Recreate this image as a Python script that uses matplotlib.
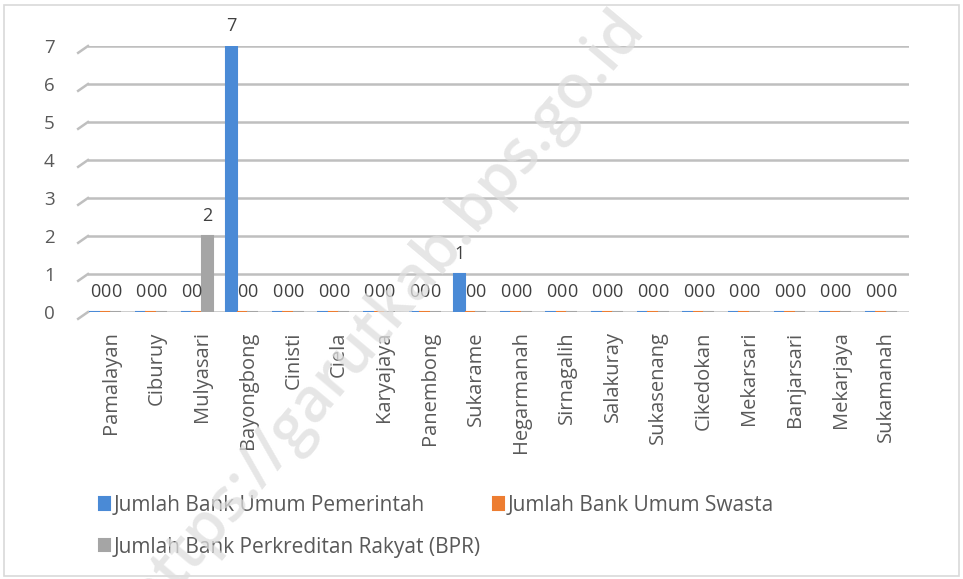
import matplotlib.pyplot as plt
import matplotlib as mpl
import numpy as np
from matplotlib.patches import Rectangle

mpl.rcParams['font.family'] = ['Open Sans', 'DejaVu Sans']

desa = ['Pamalayan', 'Ciburuy', 'Mulyasari', 'Bayongbong', 'Cinisti', 'Ciela',
        'Karyajaya', 'Panembong', 'Sukarame', 'Hegarmanah', 'Sirnagalih',
        'Salakuray', 'Sukasenang', 'Cikedokan', 'Mekarsari', 'Banjarsari',
        'Mekarjaya', 'Sukamanah']
bank_pemerintah = [0, 0, 0, 7, 0, 0, 0, 0, 1, 0, 0, 0, 0, 0, 0, 0, 0, 0]
bank_swasta = [0] * 18
bank_bpr = [0, 0, 2, 0, 0, 0, 0, 0, 0, 0, 0, 0, 0, 0, 0, 0, 0, 0]
series_names = ['Jumlah Bank Umum Pemerintah', 'Jumlah Bank Umum Swasta',
                'Jumlah Bank Perkreditan Rakyat (BPR)']
colors = ['#4a8ad6', '#ed7d31', '#a5a5a5']
txt = '#595959'

fig = plt.figure(figsize=(9.63, 5.79), dpi=100)
fig.patches.append(Rectangle((0.004, 0.006), 0.992, 0.985, transform=fig.transFigure,
                             fill=False, edgecolor='#d9d9d9', linewidth=1.2))

W, H = 963, 579
ax = fig.add_axes([88 / W, 1 - 312 / H, (909 - 88) / W, (312 - 46) / H])

x = np.arange(len(desa))
width = 0.24
offsets = [-0.35, -0.12, 0.11]
handles = []
for vals, off, c, name in zip([bank_pemerintah, bank_swasta, bank_bpr], offsets, colors, series_names):
    bars = ax.bar(x + off, vals, width, color=c, edgecolor=c, linewidth=1.5,
                  label=name, zorder=3)
    handles.append(bars)
    for xi, v in zip(x + off, vals):
        ax.annotate(str(v), (xi, v), xytext=(0, 8), textcoords='offset points',
                    ha='center', va='bottom', fontsize=13, color='#404040',
                    annotation_clip=False, zorder=4)

ax.set_xlim(-0.5, len(desa) - 0.5)
ax.set_ylim(0, 7)
ax.set_yticks(range(0, 8))
ax.yaxis.grid(True, color='#bfbfbf', linewidth=1.8, zorder=0)
ax.set_axisbelow(True)
for s in ax.spines.values():
    s.set_visible(False)
ax.tick_params(axis='y', length=0, pad=24, labelsize=13.5, labelcolor=txt)
ax.tick_params(axis='x', length=0, pad=14, labelsize=14.5, labelcolor=txt)
ax.set_xticks(x)
ax.set_xticklabels(desa, rotation=90)

# small slanted depth lines at the left of each gridline
trans = mpl.transforms.blended_transform_factory(ax.transAxes, ax.transData)
for yv in range(0, 8):
    ax.plot([-0.012, 0], [yv - 0.18, yv], color='#bfbfbf', linewidth=1.8,
            transform=trans, clip_on=False)

order = [handles[0], handles[2], handles[1]]
labels = [series_names[0], series_names[2], series_names[1]]
fig.legend(order, labels, ncol=2, loc='upper left', bbox_to_anchor=(80 / W, 1 - 476 / H),
           frameon=False, fontsize=15, labelcolor=txt, handlelength=0.55,
           handleheight=0.55, handletextpad=0.15, columnspacing=0.6, labelspacing=1.0)

fig.text(0.40, 0.46, 'https://garutkab.bps.go.id', rotation=50, fontsize=44,
         fontweight='semibold', color='#dedede', alpha=0.75, ha='center', va='center',
         zorder=10)

fig.savefig('out.png', dpi=100)
